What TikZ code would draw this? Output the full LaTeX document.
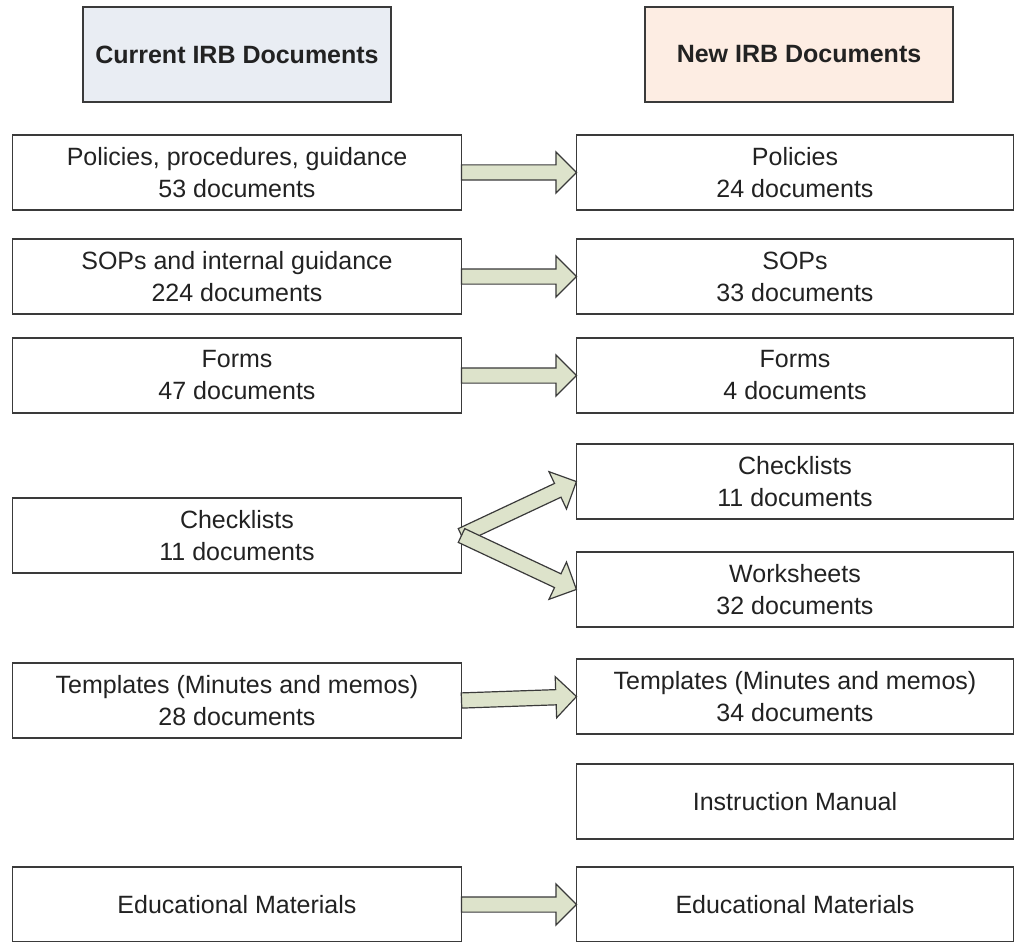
\documentclass[tikz,border=0pt]{standalone}
\usepackage{fontspec}
\setmainfont{Liberation Sans}
\usepackage{tikz}
\usetikzlibrary{positioning, shapes.arrows, calc}
\definecolor{ink}{HTML}{222222}
\definecolor{edge}{HTML}{3A3A3A}
\definecolor{curfill}{HTML}{E9EDF3}
\definecolor{newfill}{HTML}{FDEDE3}
\definecolor{arrfill}{HTML}{DDE3CB}
\tikzset{
  doc/.style={draw=edge, line width=0.8pt, fill=white, text=ink, align=center,
    font=\fontsize{12.5}{16}\selectfont, minimum height=37.5pt, inner sep=0pt,
    outer sep=0pt},
  docl/.style={doc, minimum width=224.5pt},
  docr/.style={doc, minimum width=218.5pt},
  hdr/.style={doc, minimum width=154pt, minimum height=47.5pt,
    font=\fontsize{12.5}{16}\selectfont\bfseries},
  fatarrow/.style={single arrow, draw=edge, line width=0.6pt, fill=arrfill,
    inner ysep=3.5pt, inner xsep=0pt, outer sep=0pt, single arrow head extend=6.5pt,
    single arrow tip angle=90, anchor=tail},
}
% block arrow from one anchor to another
\newcommand\bigarrow[2]{%
  \path let \p1=(#1), \p2=(#2), \n1={atan2(\y2-\y1,\x2-\x1)},
    \n2={veclen(\x2-\x1,\y2-\y1)} in
    node[fatarrow, rotate=\n1, minimum height=\n2] at (\p1) {};}

\begin{document}
\begin{tikzpicture}[node distance=14.5pt and 57.5pt]
  \useasboundingbox (0,0) rectangle (507.5pt,-470.5pt);
  \node[hdr, fill=curfill] (hcur) at (118.5pt,-27.25pt) {Current IRB Documents};
  \node[docl, below=16.5pt of hcur] (c1) {Policies, procedures, guidance\\53 documents};
  \node[docl, below=of c1] (c2) {SOPs and internal guidance\\224 documents};
  \node[docl, below=12pt of c2] (c3) {Forms\\47 documents};
  \node[docl, below=42.5pt of c3] (c4) {Checklists\\11 documents};
  \node[docl, below=45pt of c4] (c5) {Templates (Minutes and memos)\\28 documents};
  \node[docl, below=64.5pt of c5] (c6) {Educational Materials};
  \node[docr, right=of c1] (n1) {Policies\\24 documents};
  \node[docr, right=of c2] (n2) {SOPs\\33 documents};
  \node[docr, right=of c3] (n3) {Forms\\4 documents};
  \node[docr, below=15.5pt of n3] (n4) {Checklists\\11 documents};
  \node[docr, below=16.5pt of n4] (n5) {Worksheets\\32 documents};
  \node[docr, below=16pt of n5] (n6) {Templates (Minutes and memos)\\34 documents};
  \node[docr, below=15pt of n6] (n7) {Instruction Manual};
  \node[docr, right=of c6] (n8) {Educational Materials};
  \node[hdr, fill=newfill, above=16.5pt of n1, xshift=2pt] (hnew) {New IRB Documents};
  \bigarrow{c1.east}{n1.west}
  \bigarrow{c2.east}{n2.west}
  \bigarrow{c3.east}{n3.west}
  \bigarrow{c4.east}{n4.west}
  \bigarrow{c4.east}{n5.west}
  \bigarrow{c5.east}{n6.west}
  \bigarrow{c6.east}{n8.west}
\end{tikzpicture}
\end{document}
